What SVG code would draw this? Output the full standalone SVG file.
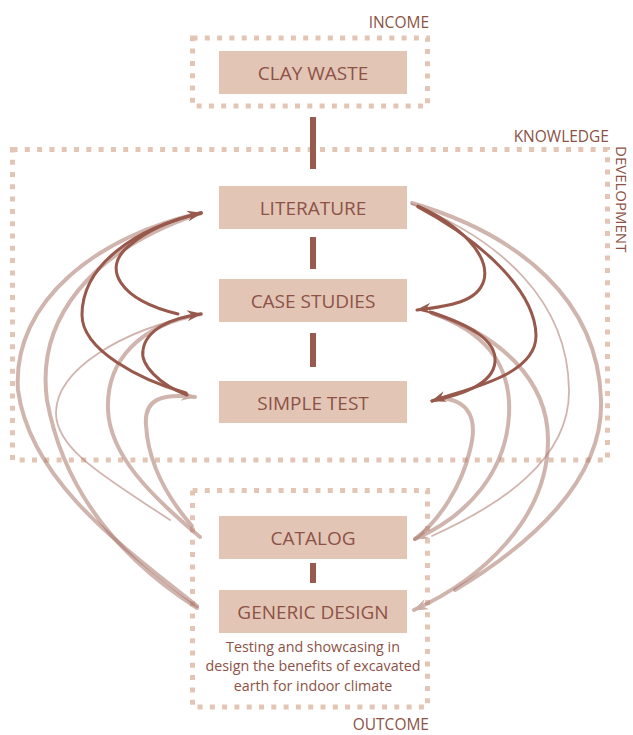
<svg xmlns="http://www.w3.org/2000/svg" width="633" height="735" viewBox="0 0 633 735">
<style>
.zone{fill:none;stroke:#e3c5b6;stroke-width:5;stroke-dasharray:5 7.3}
.box{fill:#e3c5b6}
.lbl{font-family:"Open Sans","Noto Sans",sans-serif;font-size:19px;fill:#8c5246;text-anchor:middle}
.tag{font-family:"Open Sans","Noto Sans",sans-serif;font-size:15.5px;fill:#8c5246;text-anchor:end}
.desc{font-family:"Open Sans","Noto Sans",sans-serif;font-size:14.3px;fill:#8c5246;text-anchor:middle}
.bar{stroke:#965a4e;stroke-width:6}
.dk{fill:none;stroke:#98594c;stroke-width:3;stroke-linecap:round}
.lt{fill:none;stroke:#a9776b;stroke-opacity:.55;stroke-width:4;stroke-linecap:round}
.th{stroke-width:1.8}
</style>
<defs>
<marker id="ad" markerUnits="userSpaceOnUse" markerWidth="20" markerHeight="20" orient="auto" overflow="visible" refX="0" refY="0"><path d="M1,0 L-14,-5.5 L-9,0 L-14,5.5 Z" fill="#98594c"/></marker>
<marker id="al" markerUnits="userSpaceOnUse" markerWidth="20" markerHeight="20" orient="auto" overflow="visible" refX="0" refY="0"><path d="M1,0 L-14,-5.5 L-9,0 L-14,5.5 Z" fill="#cdaea6"/></marker>
</defs>

<g id="z-income"><rect class="zone" x="192.5" y="38" width="235" height="68"/><text class="tag" x="429" y="27.5">INCOME</text></g>
<g id="z-knowledge"><rect class="zone" x="12.5" y="149.5" width="595" height="310.5"/><text class="tag" x="609" y="141.5">KNOWLEDGE</text><text class="tag" style="text-anchor:start;font-size:15px" transform="translate(616,146) rotate(90)">DEVELOPMENT</text></g>
<g id="z-outcome"><rect class="zone" x="192.5" y="490.5" width="235" height="216.5"/><text class="tag" x="429" y="730">OUTCOME</text></g>

<g id="connectors">
<line class="bar" x1="313" y1="117" x2="313" y2="169"/>
<line class="bar" x1="313" y1="237" x2="313" y2="269"/>
<line class="bar" x1="313" y1="333" x2="313" y2="367"/>
<line class="bar" x1="313" y1="563" x2="313" y2="583"/>

<path class="lt" d="M197,606 C120,545 30,480 18,390 C12,300 100,235 201,213"/>
<path class="lt" d="M197,608 C130,565 65,500 47,400 C36,320 90,250 201,213"/>
<path class="lt th" d="M170,520 C110,480 55,450 56,412 C57,370 120,330 201,314"/>
<path class="lt" d="M200,537 C150,495 110,455 108,410 C106,360 140,325 201,314"/>
<path class="lt" d="M192,526 C165,495 148,460 146,425 C144,400 160,393 195,397" marker-end="url(#al)"/>

<path class="lt" d="M412,203 C520,235 598,300 601,400 C604,480 530,545 455,590"/>
<path class="lt th" d="M412,204 C500,240 568,300 569,390 C570,460 500,505 432,536"/>
<path class="lt" d="M432,313 C480,330 512,360 509,415 C506,470 470,515 415,539" marker-end="url(#al)"/>
<path class="lt" d="M432,313 C500,335 548,380 548,440 C548,520 480,580 414,610" marker-end="url(#al)"/>
<path class="lt" d="M440,398 C470,400 478,420 470,450 C462,485 440,520 415,539"/>

<path class="dk" d="M178,314 C120,300 100,268 130,245 C150,228 175,219 201,213"/>
<path class="dk" d="M186,393 C140,380 82,350 82,315 C82,265 135,228 201,213" marker-end="url(#ad)"/>
<path class="dk" d="M187,395 C160,385 140,365 143,350 C146,330 170,318 201,314" marker-end="url(#ad)"/>

<path class="dk" d="M418,206 C460,225 490,255 484,280 C478,302 450,306 417,310" marker-end="url(#ad)"/>
<path class="dk" d="M430,312 C470,325 497,340 495,362 C493,385 460,395 432,401"/>
<path class="dk" d="M418,207 C480,240 535,290 536,335 C537,375 470,388 432,401" marker-end="url(#ad)"/>
</g>

<g id="n-clay"><rect class="box" x="219" y="51" width="188" height="43"/><text class="lbl" x="313" y="79.5">CLAY WASTE</text></g>
<g id="n-literature"><rect class="box" x="219" y="186" width="188" height="43"/><text class="lbl" x="313" y="215">LITERATURE</text></g>
<g id="n-case"><rect class="box" x="219" y="279" width="188" height="43"/><text class="lbl" x="313" y="308">CASE STUDIES</text></g>
<g id="n-simple"><rect class="box" x="219" y="381" width="188" height="42"/><text class="lbl" x="313" y="409.5">SIMPLE TEST</text></g>
<g id="n-catalog"><rect class="box" x="219" y="516" width="188" height="43"/><text class="lbl" x="313" y="544.5">CATALOG</text></g>
<g id="n-generic"><rect class="box" x="219" y="590" width="188" height="43"/><text class="lbl" x="313" y="618.5">GENERIC DESIGN</text>
<text class="desc" x="313" y="652">Testing and showcasing in</text>
<text class="desc" x="313" y="671">design the benefits of excavated</text>
<text class="desc" x="313" y="690.5">earth for indoor climate</text></g>
</svg>
